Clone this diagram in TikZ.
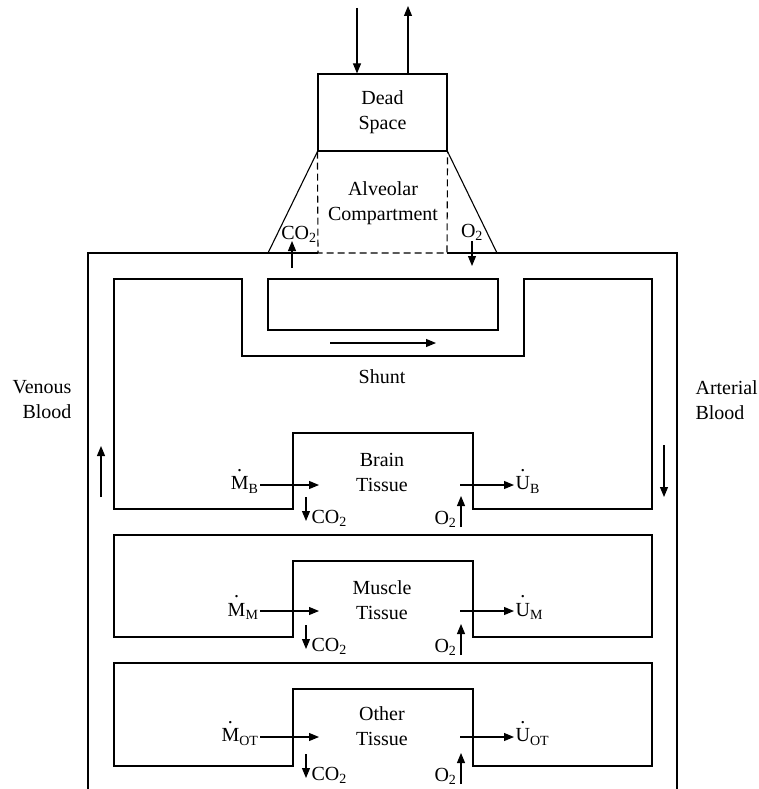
\documentclass[tikz,border=0pt]{standalone}
\usepackage{amsmath}
\usepackage{fontspec}
\setmainfont{Liberation Serif}
\usetikzlibrary{arrows.meta}

\tikzset{
  flow/.style={-{Triangle[length=10pt,width=8pt]}},
  lbl/.style={font=\fontsize{20}{25}\selectfont, inner sep=1pt},
}
% dotted rate symbol with a subscript, e.g. M-dot_B
\newcommand{\dotover}[1]{\ooalign{#1\cr\hidewidth\smash{\raisebox{18pt}{.}}\hidewidth\cr}}
\newcommand{\rate}[2]{\dotover{#1}$_{\text{#2}}$}
\newcommand{\gas}[2]{#1$_{\text{#2}}$}

\begin{document}
\begin{tikzpicture}[x=1pt, y=-1pt, line width=1.1pt]
\useasboundingbox (0,0) rectangle (759,789);

% Dead space with the air going in and out
\node[lbl, draw, line width=1.1pt, align=center, minimum width=129pt, minimum height=77pt] (dead) at (382.5,112.5) {Dead\\Space};
\coordinate (air in) at (357,8);
\coordinate (air out) at (408,6);
\draw[flow] (air in) -- (air in |- dead.north);
\draw[flow] (air out |- dead.north) -- (air out);

% Alveolar compartment (trapezoid + dashed exchange region)
\coordinate (alv left) at (268,253);
\coordinate (alv right) at (497,253);
\draw (dead.south west) -- (alv left);
\draw (dead.south east) -- (alv right);
\draw[dashed, dash pattern=on 7pt off 4pt] (dead.south west) -- (318,253) -- (447,253) -- (dead.south east);
\node[lbl, align=center] (alv) at (383,203) {Alveolar\\Compartment};

% Outer blood loop
\draw (88,789) -- (88,253) -- (318,253);
\draw (447,253) -- (677,253) -- (677,789);

% Gas exchange at the lungs
\node[lbl] (co2 lung) at (299,234) {\gas{CO}{2}};
\node[lbl] (o2 lung) at (472,232) {\gas{O}{2}};
\coordinate (co2 lung foot) at (292,268);
\coordinate (o2 lung foot) at (472,266);
\draw[flow] (co2 lung foot) -- (292,241);
\draw[flow] (472,241) -- (o2 lung foot);

% Shunt path and brain section
\draw (114,279) -- (242,279) -- (242,356) -- (524,356) -- (524,279) -- (652,279) -- (652,509) -- (473,509) -- (473,433) -- (293,433) -- (293,509) -- (114,509) -- cycle;
\draw (268,279) rectangle (498,330);
\coordinate (shunt a) at (330,343);
\coordinate (shunt b) at (436,343);
\draw[flow] (shunt a) -- (shunt b);
\node[lbl] (shunt) at (382,377) {Shunt};

% Blood direction
\node[lbl, align=right, anchor=east] (venous) at (73,400) {Venous\\Blood};
\node[lbl, align=left, anchor=west] (arterial) at (694,400) {Arterial\\Blood};
\coordinate (ven a) at (101,497);
\coordinate (ven b) at (101,446);
\coordinate (art a) at (664,445);
\coordinate (art b) at (664,497);
\draw[flow] (ven a) -- (ven b);
\draw[flow] (art a) -- (art b);

% Brain tissue
\node[lbl, align=center] (brain) at (382,472) {Brain\\Tissue};
\node[lbl, anchor=east] (mB) at (260,485) {\rate{M}{B}};
\coordinate (mB in) at (319,485);
\draw[flow] (mB) -- (mB in);
\coordinate (uB out) at (460,485);
\node[lbl, anchor=west] (uB) at (514,485) {\rate{U}{B}};
\draw[flow] (uB out) -- (uB);
\coordinate (co2B) at (306,497);
\draw[flow] (co2B) -- ++(0,24);
\node[lbl, anchor=west] at (310,518) {\gas{CO}{2}};
\coordinate (o2B) at (461,527);
\draw[flow] (o2B) -- ++(0,-31);
\node[lbl, anchor=east] at (458,519) {\gas{O}{2}};

% Muscle tissue
\draw (114,535) -- (652,535) -- (652,637) -- (473,637) -- (473,561) -- (293,561) -- (293,637) -- (114,637) -- cycle;
\node[lbl, align=center] (muscle) at (382,600) {Muscle\\Tissue};
\node[lbl, anchor=east] (mM) at (260,611) {\rate{M}{M}};
\coordinate (mM in) at (319,611);
\draw[flow] (mM) -- (mM in);
\coordinate (uM out) at (460,611);
\node[lbl, anchor=west] (uM) at (514,611) {\rate{U}{M}};
\draw[flow] (uM out) -- (uM);
\coordinate (co2M) at (306,625);
\draw[flow] (co2M) -- ++(0,24);
\node[lbl, anchor=west] at (310,646) {\gas{CO}{2}};
\coordinate (o2M) at (461,655);
\draw[flow] (o2M) -- ++(0,-31);
\node[lbl, anchor=east] at (458,647) {\gas{O}{2}};

% Other tissue
\draw (114,663) -- (652,663) -- (652,766) -- (473,766) -- (473,689) -- (293,689) -- (293,766) -- (114,766) -- cycle;
\node[lbl, align=center] (other) at (382,726) {Other\\Tissue};
\node[lbl, anchor=east] (mOT) at (260,737) {\rate{M}{OT}};
\coordinate (mOT in) at (319,737);
\draw[flow] (mOT) -- (mOT in);
\coordinate (uOT out) at (460,737);
\node[lbl, anchor=west] (uOT) at (514,737) {\rate{U}{OT}};
\draw[flow] (uOT out) -- (uOT);
\coordinate (co2OT) at (306,754);
\draw[flow] (co2OT) -- ++(0,24);
\node[lbl, anchor=west] at (310,775) {\gas{CO}{2}};
\coordinate (o2OT) at (461,784);
\draw[flow] (o2OT) -- ++(0,-31);
\node[lbl, anchor=east] at (458,776) {\gas{O}{2}};
\end{tikzpicture}
\end{document}
